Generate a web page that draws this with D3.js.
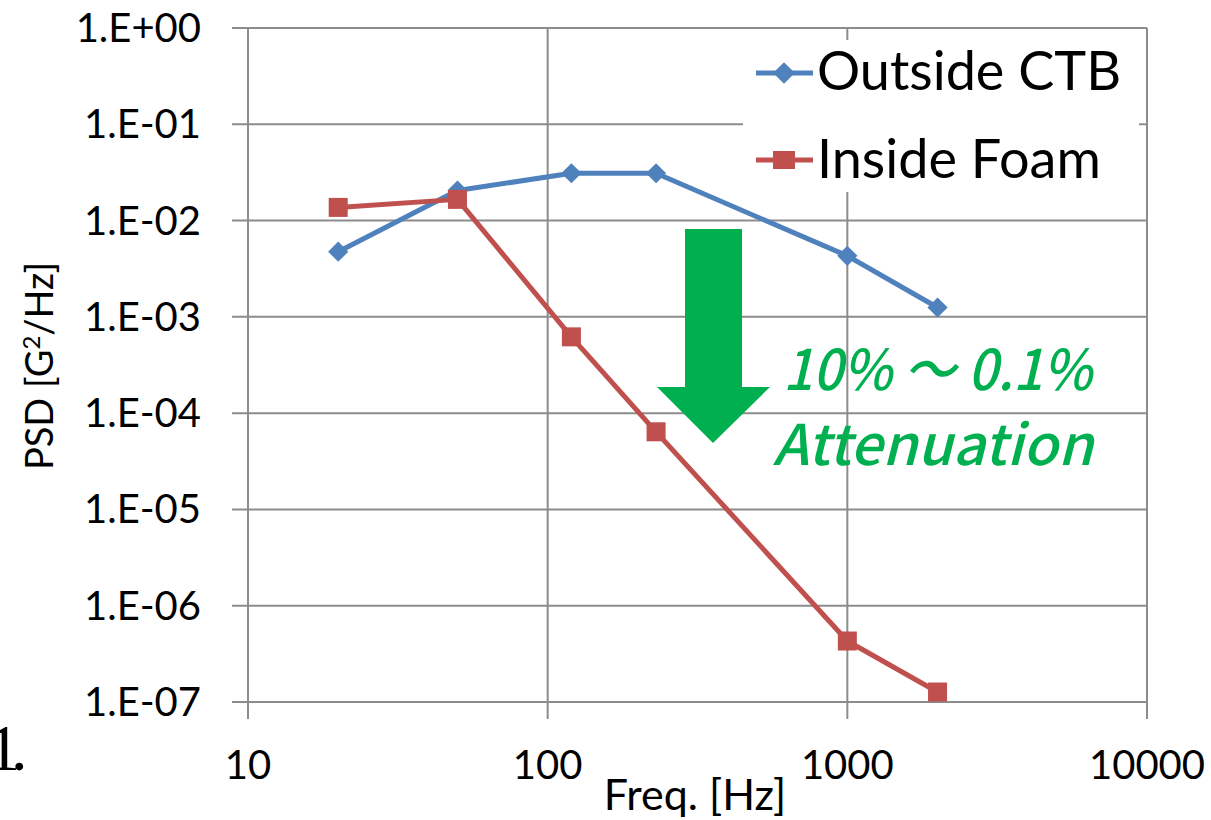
<!doctype html>
<html lang="en">
<head>
<meta charset="utf-8">
<style>
  body { margin: 0; background: #fff; }
  svg text { font-family: Lato, "Open Sans", sans-serif; fill: #000; }
</style>
</head>
<body>
<div id="grafico"></div>
<script src="https://d3js.org/d3.v7.min.js"></script>
<script>

// datos
var freq = [20, 50, 120, 230, 1000, 2000];
var outsideCTB = [4.75e-3, 2.05e-2, 3.1e-2, 3.1e-2, 4.3e-3, 1.25e-3];
var insideFoam = [1.37e-2, 1.66e-2, 6.2e-4, 6.4e-5, 4.3e-7, 1.27e-7];

var xTicks = [10, 100, 1000, 10000];
var xTickLabels = ["10", "100", "1000", "10000"];
var yTicks = [1, 1e-1, 1e-2, 1e-3, 1e-4, 1e-5, 1e-6, 1e-7];
var yTickLabels = ["1.E+00", "1.E-01", "1.E-02", "1.E-03", "1.E-04", "1.E-05", "1.E-06", "1.E-07"];

var azul = "#4F81BD", rojo = "#C0504D", verde = "#00B050", gris = "#8c8c8c";

var svg = d3.select("#grafico").append("svg").attr("width", 1211).attr("height", 820);

var x = d3.scaleLog().domain([10, 10000]).range([248, 1147]);
var y = d3.scaleLog().domain([1e-7, 1]).range([702, 28]);

// grilla
svg.selectAll("line.h").data(yTicks).enter().append("line")
  .attr("x1", 232).attr("x2", x(10000))
  .attr("y1", function(d){ return y(d) }).attr("y2", function(d){ return y(d) })
  .attr("stroke", gris).attr("stroke-width", 2);

svg.selectAll("line.v").data(xTicks).enter().append("line")
  .attr("x1", function(d){ return x(d) }).attr("x2", function(d){ return x(d) })
  .attr("y1", y(1)).attr("y2", y(1e-7) + 17)
  .attr("stroke", gris).attr("stroke-width", 2);

// etiquetas de ejes
svg.selectAll("text.ytick").data(yTicks).enter().append("text")
  .attr("x", 201).attr("y", function(d){ return y(d) + 14 })
  .attr("text-anchor", "end").style("font-size", "40px")
  .text(function(d, i){ return yTickLabels[i] });

svg.selectAll("text.xtick").data(xTicks).enter().append("text")
  .attr("x", function(d){ return x(d) }).attr("y", 779)
  .attr("text-anchor", "middle").style("font-size", "40px")
  .text(function(d, i){ return xTickLabels[i] });

svg.append("text").attr("x", 695).attr("y", 810).attr("text-anchor", "middle")
  .style("font-size", "43px").text("Freq. [Hz]");

var yt = svg.append("text").attr("transform", "translate(53,366) rotate(-90)")
  .attr("text-anchor", "middle").style("font-size", "38px");
yt.append("tspan").text("PSD [G");
yt.append("tspan").attr("dy", -13).style("font-size", "24px").text("2");
yt.append("tspan").attr("dy", 13).text("/Hz]");

// texto cortado del documento original
var uno = svg.append("text").attr("x", -13).attr("y", 770)
  .style("font-family", "'Liberation Serif', serif").style("font-size", "66px");
uno.append("tspan").text("1");
uno.append("tspan").attr("dx", -9).text(".");

// series
var linea = d3.line().x(function(d){ return x(d[0]) }).y(function(d){ return y(d[1]) });

var datosA = freq.map(function(f, i){ return [f, outsideCTB[i]] });
var datosR = freq.map(function(f, i){ return [f, insideFoam[i]] });

svg.append("path").datum(datosA).attr("d", linea).attr("fill", "none")
  .attr("stroke", azul).attr("stroke-width", 5).attr("stroke-linejoin", "round");
svg.selectAll("path.rombo").data(datosA).enter().append("path")
  .attr("d", d3.symbol().type(d3.symbolDiamond2).size(260)())
  .attr("transform", function(d){ return "translate(" + x(d[0]) + "," + y(d[1]) + ")" })
  .attr("fill", azul);

svg.append("path").datum(datosR).attr("d", linea).attr("fill", "none")
  .attr("stroke", rojo).attr("stroke-width", 5).attr("stroke-linejoin", "round");
svg.selectAll("rect.cuadro").data(datosR).enter().append("rect")
  .attr("x", function(d){ return x(d[0]) - 9.5 }).attr("y", function(d){ return y(d[1]) - 9.5 })
  .attr("width", 19).attr("height", 19).attr("fill", rojo);

// leyenda
var ley = svg.append("g");
ley.append("rect").attr("x", 743).attr("y", 40).attr("width", 396).attr("height", 152).attr("fill", "#fff");
ley.append("line").attr("x1", 756).attr("x2", 813).attr("y1", 73).attr("y2", 73).attr("stroke", azul).attr("stroke-width", 5);
ley.append("path").attr("d", d3.symbol().type(d3.symbolDiamond2).size(300)())
  .attr("transform", "translate(784,73)").attr("fill", azul);
ley.append("text").attr("x", 817).attr("y", 90).style("font-size", "54px").text("Outside CTB");
ley.append("line").attr("x1", 756).attr("x2", 813).attr("y1", 160).attr("y2", 160).attr("stroke", rojo).attr("stroke-width", 5);
ley.append("rect").attr("x", 773).attr("y", 151).attr("width", 22).attr("height", 18).attr("fill", rojo);
ley.append("text").attr("x", 817).attr("y", 178).style("font-size", "54px").text("Inside Foam");

// flecha y nota
svg.append("polygon")
  .attr("points", "685,229 742,229 742,387 770,387 713,443 657,387 685,387")
  .attr("fill", verde);

svg.append("text").attr("x", 783).attr("y", 390)
  .attr("textLength", 309).attr("lengthAdjust", "spacingAndGlyphs")
  .style("font-family", "'Noto Sans CJK JP', 'DejaVu Sans', sans-serif")
  .style("font-style", "italic").style("font-weight", "500").style("font-size", "56px").style("fill", verde)
  .text("10% ～ 0.1%");
svg.append("text").attr("x", 773).attr("y", 465)
  .attr("textLength", 320).attr("lengthAdjust", "spacingAndGlyphs")
  .style("font-family", "'Noto Sans CJK JP', 'DejaVu Sans', sans-serif")
  .style("font-style", "italic").style("font-weight", "500").style("font-size", "56px").style("fill", verde)
  .text("Attenuation");

</script>
</body>
</html>
